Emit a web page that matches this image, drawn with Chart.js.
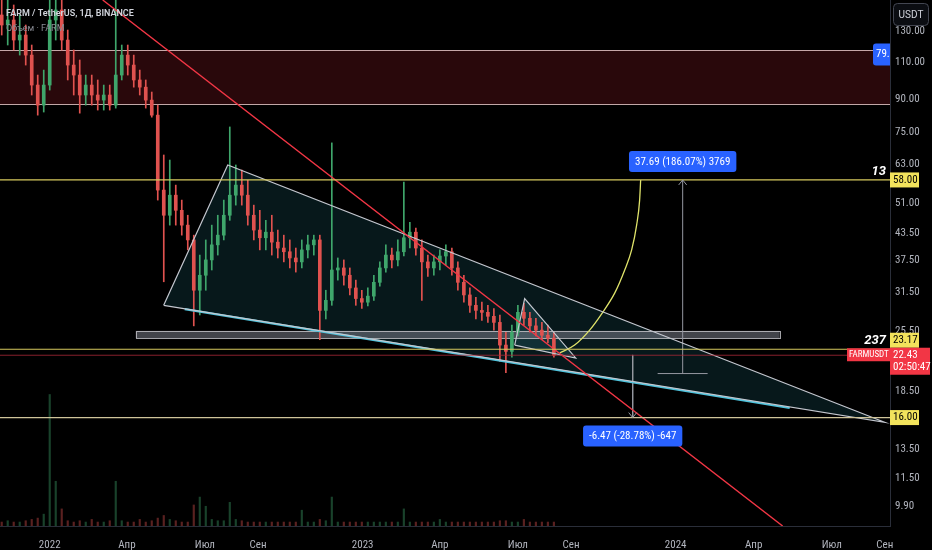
<!DOCTYPE html>
<html>
<head>
<meta charset="utf-8">
<script src="https://cdn.jsdelivr.net/npm/chart.js@4.4.1/dist/chart.umd.min.js"></script>
<style>
  html, body { margin: 0; padding: 0; background: #000; }
  #wrap { width: 932px; height: 550px; position: relative; }
</style>
</head>
<body>
<div id="wrap"><canvas id="farm"></canvas></div>
<script>
// x = days from 1 Jan 2022, one candle per week
const candleDays = [-56,-49,-42,-35,-28,-21,-14,-7,0,7,14,21,28,35,42,49,56,63,70,77,84,91,98,105,112,119,126,133,140,147,154,161,168,175,182,189,196,203,210,217,224,231,238,245,252,259,266,273,280,287,294,301,308,315,322,329,336,343,350,357,364,371,378,385,392,399,406,413,420,427,434,441,448,455,462,469,476,483,490,497,504,511,518,525,532,539,546,553,560,567,574,581,588];
const openP  = [141.8,134.3,138.0,123.8,127.2,114.1,97.0,87.0,97.0,138.0,145.7,123.8,108.1,102.4,91.9,97.0,91.9,89.4,91.9,87.0,102.4,114.1,108.1,99.7,95.9,89.4,82.4,54.9,47.9,53.4,49.2,45.4,41.9,31.9,34.6,37.6,40.8,43.0,47.9,53.4,56.4,53.4,47.9,44.2,42.4,43.7,41.4,40.1,39.3,38.0,37.2,39.7,40.8,41.9,28.6,30.2,35.6,36.0,34.6,32.3,30.5,29.9,30.9,33.3,36.0,38.6,37.6,39.3,42.4,43.7,40.1,37.2,36.0,37.2,38.4,39.3,36.0,33.3,31.1,29.4,28.6,28.3,27.7,26.8,23.7,22.9,25.4,28.3,27.4,26.3,25.7,25.0,24.6];
const highP  = [166,158,149.7,141.8,134.3,120.5,102.4,105.2,166,171,162,130.7,117.3,111.1,102.4,102.4,99.7,97.0,97.0,153.8,120.5,120.5,114.1,105.2,99.7,93.4,87.0,66.4,64.6,56.4,52.0,47.9,43.0,38.6,41.9,45.4,47.9,52.0,77.3,62.9,61.2,57.9,50.6,49.2,46.6,47.9,44.2,43.0,41.9,40.1,41.9,43.0,43.0,43.0,31.9,70.9,38.0,37.6,36.0,33.7,31.9,32.3,34.6,37.2,40.8,40.1,41.9,57.3,46.1,44.7,41.9,38.6,38.6,39.7,40.8,40.1,37.2,34.6,32.3,30.7,29.9,29.4,28.9,27.9,25.4,26.4,29.4,29.7,28.3,27.4,26.8,26.4,25.4];
const lowP   = [127.2,120.5,117.3,114.1,108.1,91.9,82.4,83.8,94.4,123.8,117.3,99.7,91.9,83.3,87.0,87.0,84.7,84.7,84.7,85.6,99.7,102.4,95.9,91.9,85.6,81.5,52.0,33.4,45.4,45.4,43.0,39.7,26.3,27.9,31.9,35.6,38.6,41.9,46.6,50.6,50.6,45.4,41.9,39.7,39.7,38.6,38.0,37.2,36.0,35.2,36.0,38.0,38.6,24.4,27.3,29.4,33.7,32.8,31.1,29.4,28.9,29.3,30.2,32.6,35.2,36.0,36.4,38.4,40.1,38.6,30.2,34.4,34.6,35.6,36.6,34.6,31.9,29.9,28.3,27.3,27.1,26.8,25.7,21.7,20.4,22.2,24.9,26.4,25.4,24.9,24.4,24.0,22.2];
const closeP = [134.3,138.0,123.8,127.2,114.1,97.0,87.0,97.0,138.0,145.7,123.8,108.1,102.4,91.9,97.0,91.9,89.4,91.9,87.0,102.4,114.1,108.1,99.7,95.9,89.4,82.4,54.9,47.9,53.4,49.2,45.4,41.9,31.9,34.6,37.6,40.8,43.0,47.9,53.4,56.4,53.4,47.9,44.2,42.4,43.7,41.4,40.1,39.3,38.0,37.2,39.7,40.8,41.9,28.6,30.2,35.6,36.0,34.6,32.3,30.5,29.9,30.9,33.3,36.0,38.6,37.6,39.3,42.4,43.7,40.1,37.2,36.0,37.2,38.4,39.3,36.0,33.3,31.1,29.4,28.6,28.3,27.7,26.8,23.7,22.9,25.4,28.3,27.4,26.3,25.7,25.0,24.6,22.43];
const volumes = [3,4,3,3,4,5,6,9,100,34,13,4,3,4,3,5,3,3,4,34,4,3,3,5,3,4,6,8,5,4,3,3,16,22,15,5,4,4,18,5,4,3,3,3,3,3,3,3,3,3,12,3,3,5,4,22,3,3,3,3,3,3,3,3,3,3,3,13,3,3,3,3,3,5,3,3,3,3,3,3,3,3,3,4,4,3,3,5,3,3,3,3,3];

// axis ticks
const yTicks = [130, 110, 90, 75, 63, 51, 43.5, 37.5, 31.5, 25.5, 18.5, 13.5, 11.5, 9.9];
const monthDays = [0, 90, 181, 243, 365, 455, 546, 608, 730, 821, 912, 974];
const monthLabels = ['2022', 'Апр', 'Июл', 'Сен', '2023', 'Апр', 'Июл', 'Сен', '2024', 'Апр', 'Июл', 'Сен'];

// drawings (days, price)
const zonePrices = [87.5, 117.3];
const levelPrices = [58.0, 23.17, 16.0];
const lastPrice = 22.43;
const redTrendDays = [61.8, 854.8];
const redTrendPrices = [153.8, 8.89];
const wedgeDays = [132.9, 207.6, 973.8, 132.9];
const wedgePrices = [29.4, 62.9, 15.6, 29.4];
const supportDays = [157.4, 863.0];
const supportPrices = [28.8, 16.85];
const flagDays = [542.3, 553.9, 613.4, 542.3];
const flagPrices = [23.7, 30.5, 22.1, 23.7];
const bandDays = [100.3, 851.3];
const bandPrices = [24.6, 25.6];
const curveDays = [594.8, 612.2, 629.7, 644.9, 658.9, 670.6, 678.7, 684.5, 688.0, 689.2];
const curvePrices = [22.7, 23.7, 25.7, 28.3, 31.4, 35.6, 39.7, 45.4, 52.0, 58.0];
const upMeasureDay = 738.2, upMeasureBaseDays = [709.0, 767.3], upMeasurePrices = [20.31, 58.0];
const downMeasureDay = 679.9, downMeasurePrices = [22.47, 16.0];
const alertPrice = 114.5;

const xMin = -58, xMax = 980;
const UP = '#3fa66b', DOWN = '#e0524f';
const FONT = 'Roboto, "Liberation Sans", sans-serif';
const NARROW = '"Liberation Sans Narrow", "Roboto Condensed", Roboto, sans-serif';

const isUp = closeP.map((c, i) => c >= openP[i]);
const candleColors = isUp.map(u => u ? UP : DOWN);
const volColors = isUp.map(u => u ? 'rgba(63,166,107,0.4)' : 'rgba(224,82,79,0.4)');

function pts(xs, ys) { return xs.map((v, i) => ({ x: v, y: ys[i] })); }
function lineDs(data, color, width, extra) {
  return Object.assign({
    type: 'line', data: data, borderColor: color, borderWidth: width,
    pointRadius: 0, fill: false, tension: 0, order: 1, yAxisID: 'y'
  }, extra || {});
}
function roundBox(ctx, x, y, w, h, r, fill, stroke) {
  ctx.beginPath();
  ctx.roundRect(x, y, w, h, r);
  if (fill) { ctx.fillStyle = fill; ctx.fill(); }
  if (stroke) { ctx.strokeStyle = stroke; ctx.lineWidth = 1; ctx.stroke(); }
}

const drawings = {
  id: 'drawings',
  beforeDatasetsDraw(chart) {
    const { ctx, chartArea: a, scales: { x, y } } = chart;
    ctx.save();
    ctx.beginPath();
    ctx.rect(a.left, a.top, a.right - a.left, a.bottom - a.top);
    ctx.clip();
    // red resistance zone
    const zt = y.getPixelForValue(zonePrices[1]);
    const zb = y.getPixelForValue(zonePrices[0]);
    ctx.fillStyle = 'rgba(150,28,42,0.27)';
    ctx.fillRect(a.left, zt, a.right - a.left, zb - zt);
    ctx.strokeStyle = 'rgba(215,185,185,0.9)';
    ctx.lineWidth = 1;
    [zt, zb].forEach(py => {
      ctx.beginPath(); ctx.moveTo(a.left, Math.round(py) + 0.5); ctx.lineTo(a.right, Math.round(py) + 0.5); ctx.stroke();
    });
    // wedge and flag fills
    const poly = (ds, ps, col) => {
      ctx.beginPath();
      ds.forEach((d, i) => {
        const px = x.getPixelForValue(d), py = y.getPixelForValue(ps[i]);
        if (i === 0) ctx.moveTo(px, py); else ctx.lineTo(px, py);
      });
      ctx.closePath();
      ctx.fillStyle = col;
      ctx.fill();
    };
    poly(wedgeDays, wedgePrices, 'rgba(40,140,160,0.17)');
    poly(flagDays, flagPrices, 'rgba(60,160,170,0.18)');
    // grey band
    const bx0 = x.getPixelForValue(bandDays[0]), bx1 = x.getPixelForValue(bandDays[1]);
    const by0 = y.getPixelForValue(bandPrices[1]), by1 = y.getPixelForValue(bandPrices[0]);
    ctx.fillStyle = 'rgba(120,123,134,0.55)';
    ctx.fillRect(bx0, by0, bx1 - bx0, by1 - by0);
    ctx.strokeStyle = 'rgba(190,190,195,0.85)';
    ctx.strokeRect(Math.round(bx0) + 0.5, Math.round(by0) + 0.5, Math.round(bx1 - bx0), Math.round(by1 - by0));
    ctx.restore();
  },
  afterDatasetsDraw(chart) {
    const { ctx, chartArea: a, scales: { x, y } } = chart;
    ctx.save();
    // arrow heads
    ctx.strokeStyle = '#9598a1';
    ctx.lineWidth = 1;
    let ax = x.getPixelForValue(upMeasureDay), ay = y.getPixelForValue(upMeasurePrices[1]);
    ctx.beginPath(); ctx.moveTo(ax - 4, ay + 5); ctx.lineTo(ax, ay); ctx.lineTo(ax + 4, ay + 5); ctx.stroke();
    let bx = x.getPixelForValue(downMeasureDay), by = y.getPixelForValue(downMeasurePrices[1]);
    ctx.beginPath(); ctx.moveTo(bx - 4, by - 5); ctx.lineTo(bx, by); ctx.lineTo(bx + 4, by - 5); ctx.stroke();
    // measure labels
    ctx.font = '11px ' + NARROW;
    ctx.textAlign = 'center';
    ctx.textBaseline = 'middle';
    const t1 = '37.69 (186.07%) 3769';
    let w = ctx.measureText(t1).width + 12;
    roundBox(ctx, ax - w / 2, ay - 29, w, 21, 3, '#2962ff');
    ctx.fillStyle = '#fff';
    ctx.fillText(t1, ax, ay - 18);
    const t2 = '-6.47 (-28.78%) -647';
    w = ctx.measureText(t2).width + 12;
    roundBox(ctx, bx - w / 2, by + 8, w, 21, 3, '#2962ff');
    ctx.fillStyle = '#fff';
    ctx.fillText(t2, bx, by + 19);
    // level captions
    ctx.font = 'italic bold 13px ' + FONT;
    ctx.textAlign = 'right';
    ctx.textBaseline = 'alphabetic';
    ctx.fillStyle = '#fff';
    ctx.fillText('13', a.right - 4, y.getPixelForValue(levelPrices[0]) - 5);
    ctx.fillText('237', a.right - 4, y.getPixelForValue(levelPrices[1]) - 5);
    // alert tag cut by the axis
    ctx.beginPath();
    ctx.rect(a.left, a.top, a.right - a.left, a.bottom - a.top);
    ctx.clip();
    const alY = y.getPixelForValue(alertPrice);
    roundBox(ctx, a.right - 17, alY - 11, 24, 22, 3, '#2962ff');
    ctx.font = '11px ' + NARROW;
    ctx.textAlign = 'left';
    ctx.textBaseline = 'middle';
    ctx.fillStyle = '#fff';
    ctx.fillText('79.', a.right - 14, alY);
    ctx.restore();
  },
  afterDraw(chart) {
    const { ctx, chartArea: a, scales: { y } } = chart;
    ctx.save();
    ctx.textBaseline = 'middle';
    // header
    ctx.textAlign = 'left';
    ctx.font = '600 9px ' + FONT;
    ctx.fillStyle = '#d1d4dc';
    ctx.fillText('FARM / TetherUS, 1Д, BINANCE', 6, 14);
    ctx.font = '9px ' + FONT;
    ctx.fillStyle = '#8a8d96';
    ctx.fillText('Объем · FARM', 6, 29);
    // currency box
    roundBox(ctx, 893.5, 3.5, 35, 22, 4, '#0b0d12', '#434651');
    ctx.textAlign = 'center';
    ctx.font = '10px ' + FONT;
    ctx.fillStyle = '#d1d4dc';
    ctx.fillText('USDT', 911, 15);
    // price tags on the axis
    ctx.font = '11px ' + NARROW;
    const tag = (py, text, bg, fg) => {
      ctx.fillStyle = bg;
      ctx.fillRect(a.right, py - 7.5, 29, 15);
      ctx.fillStyle = fg;
      ctx.textAlign = 'left';
      ctx.fillText(text, a.right + 3, py);
    };
    tag(y.getPixelForValue(levelPrices[0]), '58.00', '#f2e35c', '#000');
    tag(y.getPixelForValue(levelPrices[2]), '16.00', '#f2e35c', '#000');
    const lp = y.getPixelForValue(lastPrice);
    tag(lp - 15, '23.17', '#f2e35c', '#000');
    ctx.fillStyle = '#f23645';
    ctx.fillRect(a.right, lp - 7.5, 40, 27);
    ctx.fillStyle = '#fff';
    ctx.textAlign = 'left';
    ctx.fillText('22.43', a.right + 3, lp);
    ctx.fillText('02:50:47', a.right + 3, lp + 12);
    ctx.fillStyle = '#f23645';
    ctx.fillRect(a.right - 43, lp - 7, 43, 13);
    ctx.fillStyle = '#fff';
    ctx.font = '9px ' + NARROW;
    ctx.fillText('FARMUSDT', a.right - 41, lp - 0.5);
    ctx.restore();
  }
};

const ctx = document.getElementById('farm').getContext('2d');
const chart = new Chart(ctx, {
  type: 'bar',
  data: {
    datasets: [
      {
        label: 'volume', yAxisID: 'yv', order: 30, grouped: false,
        data: pts(candleDays, volumes), backgroundColor: volColors, barThickness: 1.5
      },
      {
        label: 'wicks', yAxisID: 'y', order: 21, grouped: false,
        data: candleDays.map((d, i) => ({ x: d, y: [lowP[i], highP[i]] })),
        backgroundColor: candleColors, barThickness: 1
      },
      {
        label: 'bodies', yAxisID: 'y', order: 20, grouped: false,
        data: candleDays.map((d, i) => ({ x: d, y: [openP[i], closeP[i]] })),
        backgroundColor: candleColors, barThickness: 3
      },
      lineDs(pts([xMin, xMax], [levelPrices[0], levelPrices[0]]), '#d6c95e', 1.2),
      lineDs(pts([xMin, xMax], [levelPrices[1], levelPrices[1]]), '#d6c95e', 1.2),
      lineDs(pts([xMin, xMax], [levelPrices[2], levelPrices[2]]), '#cfc49a', 1.2),
      lineDs(pts([xMin, xMax], [lastPrice, lastPrice]), 'rgba(170,40,55,0.8)', 1),
      lineDs(pts(redTrendDays, redTrendPrices), '#f23645', 1.4),
      lineDs(pts(wedgeDays, wedgePrices), '#c4c7cf', 1.2),
      lineDs(pts(supportDays, supportPrices), '#4fc3dc', 2.2),
      lineDs(pts(flagDays, flagPrices), '#c4c7cf', 1.2),
      lineDs(pts(curveDays, curvePrices), '#dfe36a', 1.3, { cubicInterpolationMode: 'monotone' }),
      lineDs(pts([upMeasureDay, upMeasureDay], upMeasurePrices), '#9598a1', 1),
      lineDs(pts(upMeasureBaseDays, [upMeasurePrices[0], upMeasurePrices[0]]), '#9598a1', 1),
      lineDs(pts([downMeasureDay, downMeasureDay], downMeasurePrices), '#9598a1', 1)
    ]
  },
  options: {
    responsive: true,
    maintainAspectRatio: false,
    animation: false,
    events: [],
    layout: { padding: 0 },
    plugins: { legend: { display: false }, tooltip: { enabled: false } },
    scales: {
      x: {
        type: 'linear', min: xMin, max: xMax, offset: false,
        grid: { display: false },
        border: { display: true, color: '#2a2e39' },
        afterBuildTicks: s => { s.ticks = monthDays.map(v => ({ value: v })); },
        afterFit: s => { s.height = 24; s.paddingLeft = 0; s.paddingRight = 0; },
        ticks: {
          autoSkip: false, maxRotation: 0, padding: 5,
          color: '#b2b5be', font: { family: NARROW, size: 11 },
          callback: v => monthLabels[monthDays.indexOf(v)]
        }
      },
      y: {
        type: 'logarithmic', position: 'right', min: 8.89, max: 153.8,
        grid: { display: false, drawTicks: false },
        border: { display: true, color: '#2a2e39' },
        afterBuildTicks: s => { s.ticks = yTicks.map(v => ({ value: v })); },
        afterFit: s => { s.width = 42; s.paddingTop = 0; s.paddingBottom = 0; },
        ticks: {
          autoSkip: false, padding: 5,
          color: '#b2b5be', font: { family: NARROW, size: 11 },
          callback: v => Number(v).toFixed(2)
        }
      },
      yv: {
        type: 'linear', display: false, min: 0, max: 400
      }
    }
  },
  plugins: [drawings]
});
</script>
</body>
</html>
